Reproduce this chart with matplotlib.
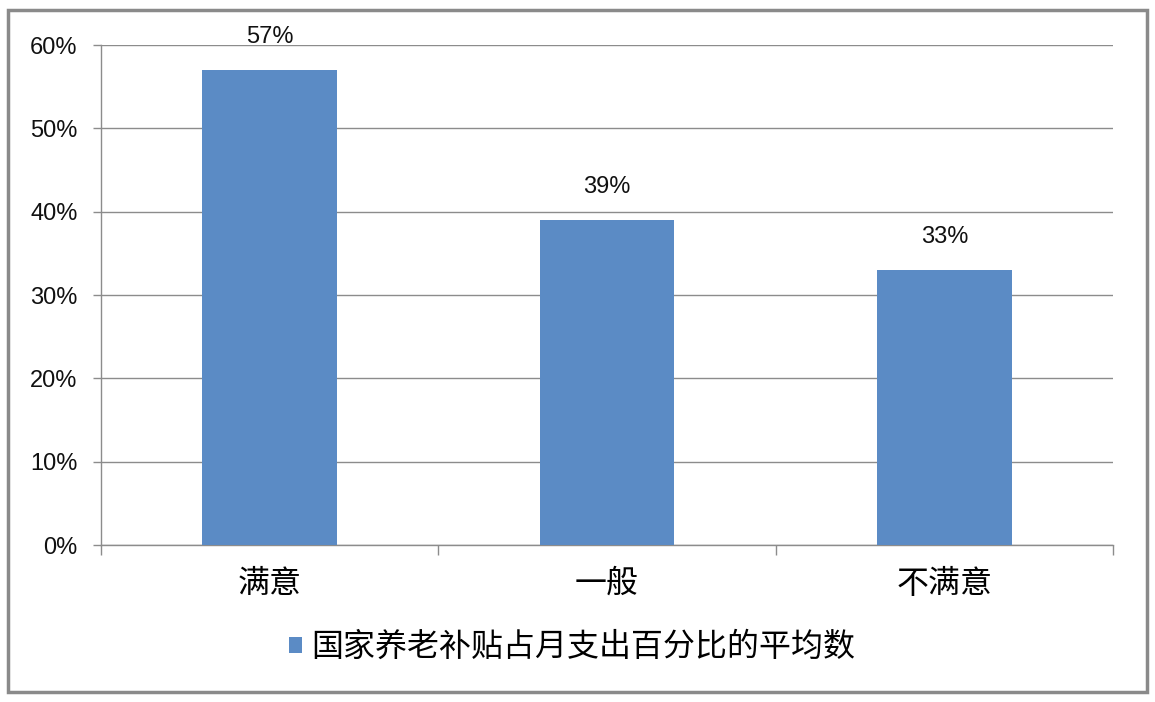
import matplotlib.pyplot as plt
from matplotlib.patches import Rectangle
from matplotlib.ticker import FuncFormatter

plt.rcParams['font.family'] = ['Liberation Sans', 'Noto Sans CJK SC', 'DejaVu Sans']

categories = ['满意', '一般', '不满意']
values = [57, 39, 33]
series_name = '国家养老补贴占月支出百分比的平均数'
bar_color = '#5B8BC5'
grid_color = '#8C8C8C'

fig = plt.figure(figsize=(11.55, 7.02), dpi=100)
ax = fig.add_axes([101 / 1155, 157 / 702, 1012 / 1155, 500 / 702])

x = range(len(categories))
bars = ax.bar(x, values, width=0.4, color=bar_color, label=series_name, zorder=3)

for b, v in zip(bars, values):
    ax.annotate(f'{v}%', (b.get_x() + b.get_width() / 2, v), xytext=(0, 16),
                textcoords='offset points', ha='center', va='bottom', fontsize=17,
                color='#111111')

ax.set_ylim(0, 60)
ax.set_xlim(-0.5, 2.5)
ax.set_yticks(range(0, 61, 10))
ax.yaxis.set_major_formatter(FuncFormatter(lambda v, p: f'{int(v)}%'))
ax.grid(axis='y', color=grid_color, linewidth=1, zorder=0)

# category boundaries as ticks, labels in between
ax.set_xticks([-0.5, 0.5, 1.5, 2.5])
ax.set_xticklabels([])
ax.set_xticks(list(x), minor=True)
ax.set_xticklabels(categories, minor=True, fontsize=23)
ax.tick_params(axis='x', which='major', length=7, color=grid_color, width=1)
ax.tick_params(axis='x', which='minor', length=0, pad=18)
ax.tick_params(axis='y', length=6, color=grid_color, width=1, pad=11, labelsize=17,
               labelcolor='#111111')

for s in ['top', 'right']:
    ax.spines[s].set_visible(False)
for s in ['left', 'bottom']:
    ax.spines[s].set_color(grid_color)
    ax.spines[s].set_linewidth(1)

leg = fig.legend(handles=[bars], labels=[series_name], loc='center',
                 bbox_to_anchor=(572 / 1155, 1 - 648 / 702), frameon=False,
                 fontsize=23, handlelength=0.4, handleheight=0.4, handletextpad=0.3)

# outer frame
fig.patches.append(Rectangle((8 / 1155, 10 / 702), 1139 / 1155, 682 / 702,
                             transform=fig.transFigure, fill=False,
                             edgecolor='#8A8A8A', linewidth=2.5))

fig.savefig('out.png', dpi=100, facecolor='white')
